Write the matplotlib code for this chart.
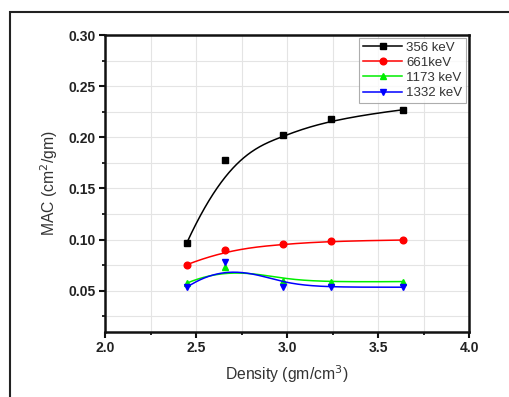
import numpy as np
import matplotlib.pyplot as plt
from matplotlib.patches import Rectangle
from matplotlib.ticker import MultipleLocator

plt.rcParams['font.family'] = ['Liberation Sans', 'DejaVu Sans']

density = [2.45, 2.66, 2.98, 3.24, 3.64]
mac_356 = [0.097, 0.178, 0.202, 0.218, 0.227]
mac_661 = [0.0755, 0.090, 0.0957, 0.0986, 0.0996]
mac_1173 = [0.0575, 0.073, 0.0598, 0.0585, 0.059]
mac_1332 = [0.0535, 0.078, 0.0535, 0.0535, 0.0535]

series = [
    ('356 keV', mac_356, 'black', 's', 4.0),
    ('661keV', mac_661, 'red', 'o', 4.8),
    ('1173 keV', mac_1173, '#00ee00', '^', 5.0),
    ('1332 keV', mac_1332, 'blue', 'v', 5.0),
]


def bspline(px, py, k=3, n=200):
    # clamped uniform B-spline, data points used as control points (like Origin)
    px = np.asarray(px, float)
    py = np.asarray(py, float)
    m = len(px)
    inner = np.linspace(0, 1, m - k + 1)
    t = np.concatenate([[0] * k, inner, [1] * k])
    u = np.linspace(0, 1, n)
    u[-1] = 1 - 1e-9
    N = np.zeros((n, len(t) - 1))
    for i in range(len(t) - 1):
        N[:, i] = (u >= t[i]) & (u < t[i + 1])
    for d in range(1, k + 1):
        Nn = np.zeros((n, len(t) - d - 1))
        for i in range(len(t) - d - 1):
            a = 0 if t[i + d] == t[i] else (u - t[i]) / (t[i + d] - t[i]) * N[:, i]
            b = 0 if t[i + d + 1] == t[i + 1] else (t[i + d + 1] - u) / (t[i + d + 1] - t[i + 1]) * N[:, i + 1]
            Nn[:, i] = a + b
        N = Nn
    return N @ px, N @ py


fig = plt.figure(figsize=(5.09, 3.97), dpi=100)
fig.patches.append(Rectangle((10 / 509, -0.1), 1.2, 1 - 12 / 397 + 0.1,
                             transform=fig.transFigure, fill=False,
                             edgecolor='#222222', linewidth=1.5))
ax = fig.add_axes([105 / 509, 1 - 331.7 / 397, 364 / 509, 296.7 / 397])

for label, vals, col, mk, ms in series:
    sx, sy = bspline(density, vals)
    ax.plot(sx, sy, color=col, linewidth=1.1)
    ax.plot(density, vals, linestyle='none', marker=mk, color=col, markersize=ms)
    ax.plot([], [], color=col, marker=mk, markersize=ms, linewidth=1.1, label=label)

ax.set_xlim(2.0, 4.0)
ax.set_ylim(0.01, 0.30)
ax.xaxis.set_minor_locator(MultipleLocator(0.25))
ax.yaxis.set_minor_locator(MultipleLocator(0.025))
ax.set_yticks([0.05, 0.10, 0.15, 0.20, 0.25, 0.30])
ax.set_yticklabels(['0.05', '0.10', '0.15', '0.20', '0.25', '0.30'])
ax.set_xticks([2.0, 2.5, 3.0, 3.5, 4.0])
ax.set_xticklabels(['2.0', '2.5', '3.0', '3.5', '4.0'])

ax.grid(True, which='both', color='#e4e4e4', linewidth=0.8)
ax.set_axisbelow(True)
for s in ax.spines.values():
    s.set_linewidth(1.8)
    s.set_color('#111111')
ax.tick_params(which='major', direction='out', length=4, width=1.5,
               labelsize=10, colors='#111111', labelcolor='#222222', pad=3)
ax.tick_params(which='minor', direction='out', length=2.5, width=1.2)
for lab in ax.get_xticklabels() + ax.get_yticklabels():
    lab.set_fontweight('bold')

ax.set_xlabel('Density (gm/cm$^3$)', fontsize=11.3, color='#333333', labelpad=6)
ax.set_ylabel('MAC (cm$^2$/gm)', fontsize=11.3, color='#333333', labelpad=6)

leg = ax.legend(loc='upper right', fontsize=9.5, frameon=True, fancybox=False,
                borderaxespad=0.2, handlelength=3.0, handletextpad=0.3,
                labelspacing=0.22, borderpad=0.3)
leg.get_frame().set_edgecolor('#999999')
leg.get_frame().set_linewidth(0.8)
for t in leg.get_texts():
    t.set_color('#333333')

fig.savefig('out.png', dpi=100)
